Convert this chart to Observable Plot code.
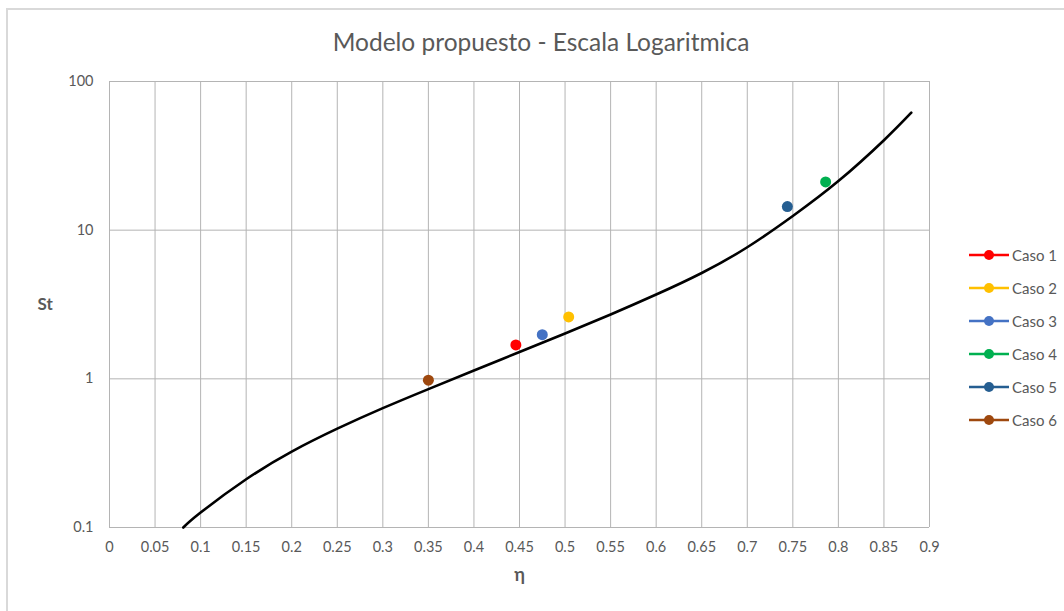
<!DOCTYPE html>
<html>
<head>
<meta charset="utf-8">
<script src="https://cdn.jsdelivr.net/npm/d3@7"></script>
<script src="https://cdn.jsdelivr.net/npm/@observablehq/plot@0.6"></script>
<style>
  body { margin: 0; background: #fff; }
  #wrap { position: relative; width: 1064px; height: 611px; overflow: hidden; background: #fff; font-family: Lato, "Open Sans", sans-serif; }
  #frame { position: absolute; left: 6px; top: 8px; width: 1100px; height: 700px; border-left: 2px solid #d9d9d9; border-top: 2px solid #d9d9d9; }
  #title { position: absolute; top: 27px; left: 0; width: 1082px; text-align: center; font-size: 24.5px; color: #595959; }
  #chart { position: absolute; left: 0; top: 0; }
  #legend { position: absolute; left: 969px; top: 238px; }
  .row { display: flex; align-items: center; height: 33px; font-size: 15px; color: #595959; }
  .row svg { margin-right: 3px; }
</style>
</head>
<body>
<div id="wrap">
  <div id="frame"></div>
  <div id="chart"></div>
  <div id="title">Modelo propuesto - Escala Logaritmica</div>
  <div id="legend"></div>
</div>
<script>
// Model curve (η, St)
const etaCurve = [0.081, 0.1, 0.15, 0.2, 0.25, 0.3, 0.35, 0.4, 0.45, 0.5, 0.55, 0.6, 0.65, 0.7, 0.75, 0.8, 0.85, 0.88];
const stCurve  = [0.1, 0.126, 0.211, 0.324, 0.462, 0.635, 0.853, 1.138, 1.514, 2.018, 2.71, 3.69, 5.152, 7.674, 12.45, 21.38, 40.27, 61.66];

// Cases
const casoNames  = ["Caso 1", "Caso 2", "Caso 3", "Caso 4", "Caso 5", "Caso 6"];
const casoEta    = [0.446, 0.504, 0.475, 0.786, 0.744, 0.350];
const casoSt     = [1.69, 2.61, 1.98, 21.1, 14.4, 0.98];
const casoColors = ["#FF0000", "#FFC000", "#4472C4", "#00B050", "#255E91", "#9E480E"];

// Axis ticks
const xTicks = [0, 0.05, 0.1, 0.15, 0.2, 0.25, 0.3, 0.35, 0.4, 0.45, 0.5, 0.55, 0.6, 0.65, 0.7, 0.75, 0.8, 0.85, 0.9];
const yTicks = [0.1, 1, 10, 100];
const xLabel = "η";
const yLabel = "St";

const curve = etaCurve.map((e, i) => ({eta: e, st: stCurve[i]}));
const casos = casoNames.map((n, i) => ({name: n, eta: casoEta[i], st: casoSt[i], color: casoColors[i]}));

const chart = Plot.plot({
  width: 1064,
  height: 611,
  marginLeft: 109,
  marginRight: 135,
  marginTop: 81,
  marginBottom: 84,
  style: {fontFamily: "Lato, 'Open Sans', sans-serif", fontSize: "14px", color: "#595959", background: "transparent"},
  x: {domain: [0, 0.9]},
  y: {type: "log", domain: [0.1, 100]},
  marks: [
    Plot.gridX(xTicks, {stroke: "#b4b4b4", strokeOpacity: 1, strokeWidth: 1}),
    Plot.gridY(yTicks, {stroke: "#b4b4b4", strokeOpacity: 1, strokeWidth: 1}),
    Plot.axisX(xTicks, {tickSize: 0, tickPadding: 14, tickFormat: d => String(d), fill: "#595959", fontSize: 14.5, label: null}),
    Plot.axisY(yTicks, {tickSize: 0, tickPadding: 16, tickFormat: d => String(d), fill: "#595959", fontSize: 14.5, label: null}),
    Plot.line(curve, {x: "eta", y: "st", stroke: "#000", strokeWidth: 2.6, curve: "natural"}),
    Plot.dot(casos, {x: "eta", y: "st", r: 5.5, fill: "color", stroke: null}),
    Plot.text([xLabel], {frameAnchor: "bottom", dy: 53, text: d => d, fontSize: 18, fontWeight: "bold", fill: "#595959"}),
    Plot.text([yLabel], {frameAnchor: "left", dx: -72, text: d => d, fontSize: 17, fontWeight: "bold", fill: "#595959"})
  ]
});
document.getElementById("chart").appendChild(chart);

const legend = document.getElementById("legend");
casos.forEach(c => {
  const row = document.createElement("div");
  row.className = "row";
  row.innerHTML = `<svg width="40" height="12"><line x1="0" y1="6" x2="40" y2="6" stroke="${c.color}" stroke-width="2.5"/><circle cx="20" cy="6" r="5" fill="${c.color}"/></svg><span>${c.name}</span>`;
  legend.appendChild(row);
});
</script>
</body>
</html>
